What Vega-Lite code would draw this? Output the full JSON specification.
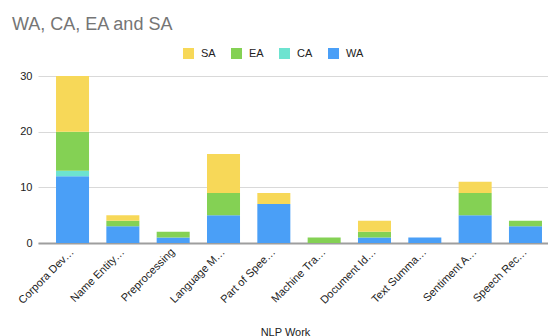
{
  "$schema": "https://vega.github.io/schema/vega-lite/v6.json",
  "autosize": "none",
  "width": 510,
  "height": 167,
  "padding": {"left": 38, "top": 76, "right": 0, "bottom": 93},
  "background": "white",
  "title": {
    "text": "WA, CA, EA and SA",
    "anchor": "start",
    "frame": "group",
    "dx": -26,
    "dy": -10,
    "fontSize": 18,
    "fontWeight": "normal",
    "color": "#757575",
    "font": "Liberation Sans"
  },
  "datasets": {
    "regions": [
      {"region": "WA", "tier": 1},
      {"region": "CA", "tier": 2},
      {"region": "EA", "tier": 3},
      {"region": "SA", "tier": 4}
    ]
  },
  "data": {
    "values": [
      {"work": "Corpora Dev…", "region": "WA", "count": 12},
      {"work": "Corpora Dev…", "region": "CA", "count": 1},
      {"work": "Corpora Dev…", "region": "EA", "count": 7},
      {"work": "Corpora Dev…", "region": "SA", "count": 10},
      {"work": "Name Entity…", "region": "WA", "count": 3},
      {"work": "Name Entity…", "region": "EA", "count": 1},
      {"work": "Name Entity…", "region": "SA", "count": 1},
      {"work": "Preprocessing", "region": "WA", "count": 1},
      {"work": "Preprocessing", "region": "EA", "count": 1},
      {"work": "Language M…", "region": "WA", "count": 5},
      {"work": "Language M…", "region": "EA", "count": 4},
      {"work": "Language M…", "region": "SA", "count": 7},
      {"work": "Part of Spee…", "region": "WA", "count": 7},
      {"work": "Part of Spee…", "region": "SA", "count": 2},
      {"work": "Machine Tra…", "region": "EA", "count": 1},
      {"work": "Document Id…", "region": "WA", "count": 1},
      {"work": "Document Id…", "region": "EA", "count": 1},
      {"work": "Document Id…", "region": "SA", "count": 2},
      {"work": "Text Summa…", "region": "WA", "count": 1},
      {"work": "Sentiment A…", "region": "WA", "count": 5},
      {"work": "Sentiment A…", "region": "EA", "count": 4},
      {"work": "Sentiment A…", "region": "SA", "count": 2},
      {"work": "Speech Rec…", "region": "WA", "count": 3},
      {"work": "Speech Rec…", "region": "EA", "count": 1}
    ]
  },
  "transform": [
    {"lookup": "region", "from": {"data": {"name": "regions"}, "key": "region", "fields": ["tier"]}}
  ],
  "mark": {"type": "bar"},
  "encoding": {
    "x": {
      "field": "work",
      "type": "nominal",
      "sort": null,
      "title": "NLP Work",
      "scale": {"range": [0, 522], "paddingInner": 0.344, "paddingOuter": 0.358},
      "axis": {
        "labelAngle": -45,
        "labelAlign": "right",
        "labelBaseline": "middle",
        "labelPadding": 7,
        "labelFontSize": 11,
        "labelColor": "#222222",
        "labelFont": "Liberation Sans",
        "labelLimit": 0,
        "ticks": false,
        "domainColor": "#9e9e9e",
        "domainWidth": 2,
        "titleFont": "Liberation Sans",
        "titleFontSize": 11,
        "titleFontWeight": "normal",
        "titleColor": "#222222",
        "titleX": 247,
        "titleY": 92,
        "titleBaseline": "alphabetic",
        "titleAlign": "center"
      }
    },
    "y": {
      "field": "count",
      "type": "quantitative",
      "stack": "zero",
      "title": null,
      "scale": {"domain": [0, 30], "nice": false},
      "axis": {
        "values": [0, 10, 20, 30],
        "domain": false,
        "ticks": false,
        "labelPadding": 6,
        "labelFontSize": 11,
        "labelColor": "#222222",
        "labelFont": "Liberation Sans",
        "gridColor": "#d9d9d9",
        "gridWidth": 1
      }
    },
    "order": {"field": "tier", "type": "quantitative", "sort": "ascending"},
    "color": {
      "field": "region",
      "type": "nominal",
      "scale": {
        "domain": ["SA", "EA", "CA", "WA"],
        "range": ["#f7d858", "#84d154", "#6de3d0", "#4a9ff7"]
      },
      "legend": {
        "title": null,
        "orient": "none",
        "direction": "horizontal",
        "legendX": 145,
        "legendY": -28,
        "symbolType": "square",
        "symbolSize": 121,
        "symbolStrokeWidth": 0,
        "symbolOpacity": 1,
        "labelFontSize": 11,
        "labelFont": "Liberation Sans",
        "labelColor": "#222222",
        "labelOffset": 7,
        "columnPadding": 15
      }
    }
  },
  "config": {
    "view": {"stroke": null},
    "font": "Liberation Sans"
  }
}
